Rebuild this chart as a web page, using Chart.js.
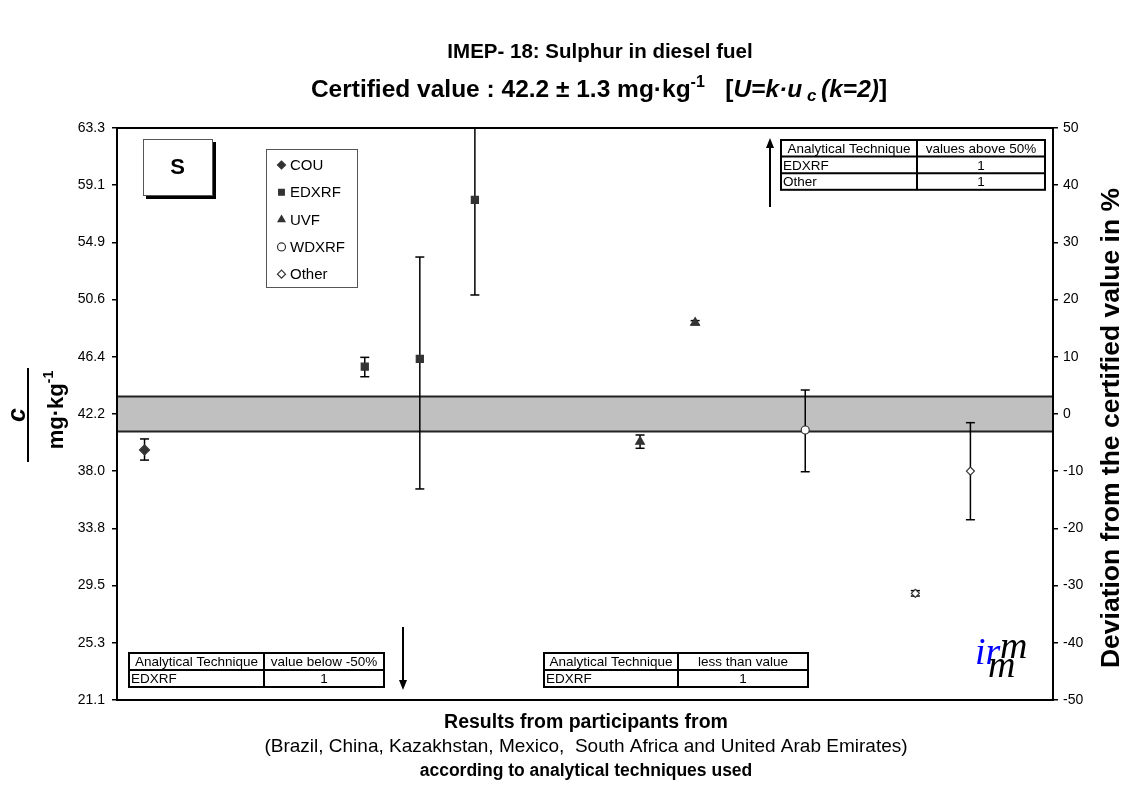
<!DOCTYPE html>
<html>
<head>
<meta charset="utf-8">
<title>IMEP-18: Sulphur in diesel fuel</title>
<script src="https://cdn.jsdelivr.net/npm/chart.js@4.4.1/dist/chart.umd.min.js"></script>
<style>
  html, body { margin: 0; padding: 0; background: #fff; }
  #wrap { width: 1133px; height: 789px; }
</style>
</head>
<body>
<div id="wrap"><canvas id="chart" width="1133" height="789"></canvas></div>
<script>
const FONT = '"Liberation Sans", Arial, sans-serif';

// certified value and expanded uncertainty, mg/kg
const certified = 42.2;
const certU = 1.3;

const techniques = ['COU', 'EDXRF', 'UVF', 'WDXRF', 'Other'];

// participant slot, reported value and error bar ends (mg/kg) per technique
const couX = [0];
const couY = [39.55];
const couLo = [38.8];
const couHi = [40.36];

const edxrfX = [4, 5, 6];
const edxrfY = [45.69, 46.26, 57.99];
const edxrfLo = [44.95, 36.67, 50.98];
const edxrfHi = [46.38, 53.78, 65.0];

const uvfX = [9, 10];
const uvfY = [40.16, 48.94];
const uvfLo = [39.67, 48.79];
const uvfHi = [40.65, 49.09];

const wdxrfX = [12];
const wdxrfY = [41.02];
const wdxrfLo = [37.94];
const wdxrfHi = [43.97];

const otherX = [14, 15];
const otherY = [28.97, 37.99];
const otherLo = [28.77, 34.4];
const otherHi = [29.17, 41.56];

// axis ticks: deviation in % (right) and concentration labels (left)
const devTicks = [-50, -40, -30, -20, -10, 0, 10, 20, 30, 40, 50];
const concTickLabels = ['21.1', '25.3', '29.5', '33.8', '38.0', '42.2', '46.4', '50.6', '54.9', '59.1', '63.3'];

// the small tables drawn inside the plot
const aboveTable = [['Analytical Technique', 'values above 50%'], ['EDXRF', '1'], ['Other', '1']];
const belowTable = [['Analytical Technique', 'value below -50%'], ['EDXRF', '1']];
const lessTable = [['Analytical Technique', 'less than value'], ['EDXRF', '1']];

const pts = (xs, ys, lo, hi) => xs.map((x, i) => ({ x, y: ys[i], lo: lo[i], hi: hi[i] }));

const markStyles = [
  { pointStyle: 'rectRot', pointRadius: 5, backgroundColor: '#333', borderColor: '#333' },
  { pointStyle: 'rect', pointRadius: 5, backgroundColor: '#333', borderColor: '#333' },
  { pointStyle: 'triangle', pointRadius: 5, backgroundColor: '#333', borderColor: '#333' },
  { pointStyle: 'circle', pointRadius: 4, backgroundColor: '#fff', borderColor: '#333' },
  { pointStyle: 'rectRot', pointRadius: 4, backgroundColor: '#fff', borderColor: '#333' }
];
const seriesData = [
  pts(couX, couY, couLo, couHi),
  pts(edxrfX, edxrfY, edxrfLo, edxrfHi),
  pts(uvfX, uvfY, uvfLo, uvfHi),
  pts(wdxrfX, wdxrfY, wdxrfLo, wdxrfHi),
  pts(otherX, otherY, otherLo, otherHi)
];

function hline(ctx, x1, y1, x2, y2) {
  ctx.beginPath(); ctx.moveTo(x1, y1); ctx.lineTo(x2, y2); ctx.stroke();
}

// draws text made of several runs with different fonts, centred on cx
function drawRuns(ctx, runs, cx, y) {
  let w = 0;
  runs.forEach(r => { ctx.font = r.font; r.w = ctx.measureText(r.t).width; w += r.w; });
  let x = cx - w / 2;
  ctx.textAlign = 'left';
  runs.forEach(r => { ctx.font = r.font; ctx.fillText(r.t, x, y + (r.dy || 0)); x += r.w; });
}

function drawTable(ctx, rows, x, y, colW, rowH) {
  ctx.save();
  ctx.font = '13.5px ' + FONT;
  ctx.strokeStyle = '#000';
  ctx.lineWidth = 2;
  const w = colW[0] + colW[1];
  ctx.fillStyle = '#fff';
  ctx.fillRect(x, y, w, rowH * rows.length);
  ctx.fillStyle = '#000';
  ctx.strokeRect(x, y, w, rowH * rows.length);
  for (let r = 1; r < rows.length; r++) hline(ctx, x, y + r * rowH, x + w, y + r * rowH);
  hline(ctx, x + colW[0], y, x + colW[0], y + rowH * rows.length);
  ctx.textBaseline = 'middle';
  rows.forEach((row, r) => {
    const cy = y + r * rowH + rowH / 2 + 1;
    if (r === 0) { ctx.textAlign = 'center'; ctx.fillText(row[0], x + colW[0] / 2, cy); }
    else { ctx.textAlign = 'left'; ctx.fillText(row[0], x + 2, cy); }
    ctx.textAlign = 'center';
    ctx.fillText(row[1], x + colW[0] + colW[1] / 2, cy);
  });
  ctx.restore();
}

function arrow(ctx, x, y1, y2) {
  const dir = y2 > y1 ? 1 : -1;
  ctx.lineWidth = 2;
  hline(ctx, x, y1, x, y2 - dir * 8);
  ctx.beginPath();
  ctx.moveTo(x, y2);
  ctx.lineTo(x - 4, y2 - dir * 10);
  ctx.lineTo(x + 4, y2 - dir * 10);
  ctx.closePath();
  ctx.fill();
}

const decor = {
  id: 'decor',
  beforeDatasetsDraw(chart) {
    const { ctx, chartArea: a, scales: { x, y } } = chart;
    ctx.save();
    // certified value +/- U band
    const top = y.getPixelForValue(certified + certU);
    const bot = y.getPixelForValue(certified - certU);
    ctx.fillStyle = '#c0c0c0';
    ctx.fillRect(a.left, top, a.width, bot - top);
    ctx.strokeStyle = '#222';
    ctx.lineWidth = 2;
    hline(ctx, a.left, top, a.right, top);
    hline(ctx, a.left, bot, a.right, bot);

    // error bars
    ctx.beginPath();
    ctx.rect(a.left, a.top, a.width, a.height);
    ctx.clip();
    ctx.strokeStyle = '#000';
    ctx.lineWidth = 1.5;
    chart.data.datasets.forEach(ds => ds.data.forEach(p => {
      const px = x.getPixelForValue(p.x);
      const yl = y.getPixelForValue(p.lo);
      const yh = y.getPixelForValue(p.hi);
      hline(ctx, px, yl, px, yh);
      hline(ctx, px - 4.5, yl, px + 4.5, yl);
      hline(ctx, px - 4.5, yh, px + 4.5, yh);
    }));
    ctx.restore();
  },
  afterDraw(chart) {
    const { ctx, chartArea: a } = chart;
    ctx.save();
    ctx.fillStyle = '#000';
    ctx.strokeStyle = '#000';

    // plot frame
    ctx.lineWidth = 2;
    ctx.strokeRect(a.left, a.top, a.width, a.height);

    // titles
    ctx.textBaseline = 'alphabetic';
    drawRuns(ctx, [{ t: 'IMEP- 18: Sulphur in diesel fuel', font: 'bold 20.5px ' + FONT }], 600, 58);
    const b = 'bold 24.5px ' + FONT, bi = 'italic bold 24.5px ' + FONT;
    drawRuns(ctx, [
      { t: 'Certified value : 42.2 \u00b1 1.3 mg\u00b7kg', font: b },
      { t: '-1', font: 'bold 16px ' + FONT, dy: -10 },
      { t: '   [', font: b },
      { t: 'U=k\u00b7u', font: bi },
      { t: ' c ', font: 'italic bold 17px ' + FONT, dy: 4 },
      { t: '(k=2)', font: bi },
      { t: ']', font: b }
    ], 599, 97);

    // x axis captions
    ctx.textAlign = 'center';
    ctx.font = 'bold 19.5px ' + FONT;
    ctx.fillText('Results from participants from', 586, 728);
    ctx.font = '19px ' + FONT;
    ctx.fillText('(Brazil, China, Kazakhstan, Mexico,  South Africa and United Arab Emirates)', 586, 752);
    ctx.font = 'bold 17.5px ' + FONT;
    ctx.fillText('according to analytical techniques used', 586, 776);

    // left axis title: c / mg.kg-1
    ctx.save();
    ctx.translate(25, 415);
    ctx.rotate(-Math.PI / 2);
    ctx.textAlign = 'center';
    ctx.font = 'italic bold 25px ' + FONT;
    ctx.fillText('c', 0, 0);
    ctx.restore();
    ctx.lineWidth = 2;
    hline(ctx, 28, 368, 28, 462);
    ctx.save();
    ctx.translate(63, 410);
    ctx.rotate(-Math.PI / 2);
    drawRuns(ctx, [
      { t: 'mg\u00b7kg', font: 'bold 22px ' + FONT },
      { t: '-1', font: 'bold 14px ' + FONT, dy: -10 }
    ], 0, 0);
    ctx.restore();

    // right axis title
    ctx.save();
    ctx.translate(1112, 428);
    ctx.rotate(-Math.PI / 2);
    ctx.textAlign = 'center';
    ctx.textBaseline = 'middle';
    ctx.font = 'bold 26.5px ' + FONT;
    ctx.fillText('Deviation from the certified value in %', 0, 0);
    ctx.restore();

    // "S" box with shadow
    ctx.fillStyle = '#000';
    ctx.fillRect(146, 142, 70, 57);
    ctx.fillStyle = '#fff';
    ctx.fillRect(143, 139, 69, 56);
    ctx.lineWidth = 1;
    ctx.strokeStyle = '#555';
    ctx.strokeRect(143.5, 139.5, 69, 56);
    ctx.fillStyle = '#000';
    ctx.font = 'bold 22px ' + FONT;
    ctx.textAlign = 'center';
    ctx.textBaseline = 'middle';
    ctx.fillText('S', 177.5, 168);

    // legend box
    ctx.strokeRect(266.5, 149.5, 91, 138);
    ctx.textAlign = 'left';
    ctx.font = '15px ' + FONT;
    techniques.forEach((t, i) => {
      const ly = 165 + i * 27.3;
      const st = markStyles[i];
      ctx.fillStyle = st.backgroundColor;
      ctx.strokeStyle = st.borderColor;
      ctx.lineWidth = 1.2;
      Chart.helpers.drawPoint(ctx, { pointStyle: st.pointStyle, radius: 4, borderWidth: 1.2 }, 281.5, ly);
      ctx.fillStyle = '#000';
      ctx.fillText(t, 290, ly + 1);
    });
    ctx.strokeStyle = '#000';

    // tables and arrows for off-scale results
    drawTable(ctx, aboveTable, 781, 140, [136, 128], 16.6);
    drawTable(ctx, belowTable, 129, 653, [135, 120], 17);
    drawTable(ctx, lessTable, 544, 653, [134, 130], 17);
    arrow(ctx, 770, 207, 138);
    arrow(ctx, 403, 627, 690);

    // irmm logo
    ctx.textAlign = 'left';
    ctx.textBaseline = 'alphabetic';
    ctx.font = 'italic 38px "Liberation Serif", serif';
    ctx.fillStyle = '#0000ff';
    ctx.fillText('ir', 975, 664);
    ctx.fillStyle = '#000';
    ctx.fillText('m', 1000, 658);
    ctx.fillText('m', 988, 677);
    ctx.restore();
  }
};

new Chart(document.getElementById('chart'), {
  type: 'scatter',
  data: {
    datasets: techniques.map((t, i) => Object.assign({
      label: t,
      data: seriesData[i],
      pointBorderWidth: 1.2,
      pointHoverRadius: 5
    }, markStyles[i]))
  },
  options: {
    responsive: false,
    animation: false,
    devicePixelRatio: 1,
    layout: { padding: { top: 128, bottom: 89, left: 0, right: 0 } },
    plugins: { legend: { display: false }, tooltip: { enabled: false } },
    scales: {
      x: { type: 'linear', min: -0.5, max: 16.5, display: false },
      y: {
        position: 'left',
        min: certified * 0.5,
        max: certified * 1.5,
        afterFit(s) { s.width = 117; },
        afterBuildTicks(s) { s.ticks = devTicks.map(p => ({ value: certified * (1 + p / 100) })); },
        border: { display: false },
        grid: { drawOnChartArea: false, tickLength: 5, color: '#000', lineWidth: 1.5 },
        ticks: {
          padding: 7,
          color: '#000',
          font: { family: FONT, size: 14 },
          callback: (v, i) => concTickLabels[i]
        }
      },
      y2: {
        position: 'right',
        min: -50,
        max: 50,
        afterFit(s) { s.width = 80; },
        afterBuildTicks(s) { s.ticks = devTicks.map(p => ({ value: p })); },
        border: { display: false },
        grid: { drawOnChartArea: false, tickLength: 5, color: '#000', lineWidth: 1.5 },
        ticks: { padding: 5, color: '#000', font: { family: FONT, size: 14 } }
      }
    }
  },
  plugins: [decor]
});
</script>
</body>
</html>
